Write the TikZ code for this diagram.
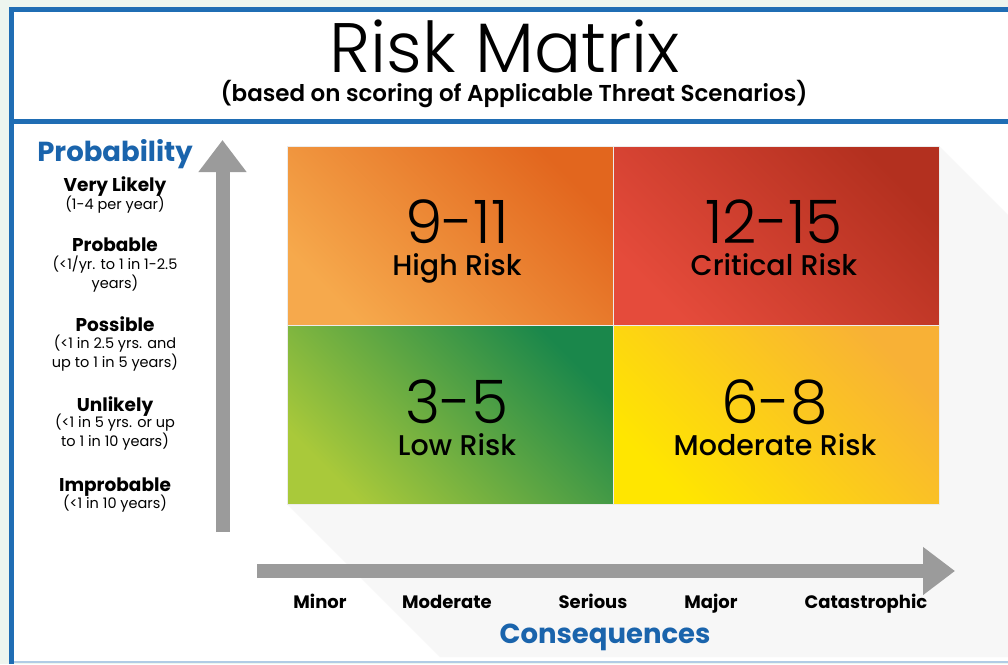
\documentclass[tikz,border=0pt]{standalone}
\usepackage{fontspec}
\setmainfont{Poppins}
\newfontfamily\thinfont{Poppins Light}
\newfontfamily\medfont{Poppins Medium}
\newfontfamily\semifont{Poppins SemiBold}
\newfontfamily\boldfont{Poppins Bold}
\usetikzlibrary{arrows.meta,positioning}

\definecolor{frameblue}{HTML}{1F6DB4}
\definecolor{axisblue}{HTML}{1A64AC}
\definecolor{mint}{HTML}{EDF5EF}
\definecolor{arrowgray}{HTML}{9B9B9B}
\definecolor{highA}{HTML}{F6A94C}
\definecolor{highB}{HTML}{E2661E}
\definecolor{critA}{HTML}{E54B3B}
\definecolor{critB}{HTML}{B3301F}
\definecolor{lowA}{HTML}{A9C93A}
\definecolor{lowB}{HTML}{1A874B}
\definecolor{modA}{HTML}{FFE600}
\definecolor{modB}{HTML}{F8B136}

\tikzset{
  cell/.style={draw=white!85!gray, line width=1pt, minimum width=326pt, minimum height=179pt, inner sep=0pt, shading angle=-45},
  score/.style={font=\thinfont\fontsize{60}{60}\selectfont, inner sep=0pt, anchor=base},
  risk/.style={font=\medfont\fontsize{28.5}{28.5}\selectfont, inner sep=0pt, anchor=base},
  lvl/.style={font=\boldfont\fontsize{18.5}{18.5}\selectfont, inner sep=0pt, anchor=base},
  lvlsub/.style={font=\fontsize{14.5}{17}\selectfont, align=center, inner sep=0pt, anchor=base},
  axislabel/.style={font=\boldfont\fontsize{18}{18}\selectfont, inner sep=0pt, anchor=base},
  axistitle/.style={font=\boldfont\fontsize{27.5}{27.5}\selectfont, text=axisblue, inner sep=0pt, anchor=base},
  axisarrow/.style={draw=arrowgray, line width=14pt, -{Triangle[width=46pt,length=32pt]}}
}

\begin{document}
\begin{tikzpicture}[x=1pt,y=-1pt]
  \useasboundingbox (0,0) rectangle (1008,664);
  \fill[mint] (0,0) rectangle (1008,664);
  \fill[white] (10,9) rectangle (1008,662);
  \draw[frameblue!35, line width=2pt] (10,662) -- (1008,662);
  \draw[frameblue, line width=5pt] (11,9.5) -- (1008,9.5);
  \draw[frameblue, line width=5pt] (11.5,7) -- (11.5,664);
  \draw[frameblue, line width=5pt] (11,121) -- (1008,121);

  % header
  \node[font=\thinfont\fontsize{70}{70}\selectfont, inner sep=0pt, anchor=base] (title) at (505,72) {Risk Matrix};
  \node[font=\semifont\fontsize{23}{23}\selectfont, inner sep=0pt, anchor=base] (subtitle) at (514,101) {(based on scoring of Applicable Threat Scenarios)};

  % long shadow behind the grid
  \fill[black!3] (288,505) -- (440,657) -- (1008,657) -- (1008,215) -- (940,147) -- cycle;

  % the four cells
  \node[cell, top color=highB, bottom color=highA, shading angle=-45] (high) at (450.5,236) {};
  \node[cell, top color=critB, bottom color=critA, shading angle=-45] (crit) at (776.5,236) {};
  \node[cell, top color=lowB, bottom color=lowA, shading angle=-45] (low) at (450.5,415) {};
  \node[cell, top color=modB, bottom color=modA, shading angle=-45] (mod) at (776.5,415) {};

  \node[score] (highnum) at (457,243) {9-11};
  \node[risk] (hightxt) at (457,275) {High Risk};
  \node[score] (critnum) at (774,243) {12-15};
  \node[risk] (crittxt) at (774,275) {Critical Risk};
  \node[score] (lownum) at (457,423) {3-5};
  \node[risk] (lowtxt) at (457,455) {Low Risk};
  \node[score] (modnum) at (775,423) {6-8};
  \node[risk] (modtxt) at (775,455) {Moderate Risk};

  % probability axis
  \coordinate (ybot) at (222.5,532);
  \coordinate (ytop) at (222.5,140);
  \draw[axisarrow] (ybot) -- (ytop);
  \node[axistitle] (prob) at (115,161) {Probability};
  \node[lvl] (vlikely) at (115,191) {Very Likely};
  \node[lvlsub] (vlikelysub) at (115,209) {(1-4 per year)};
  \node[lvl] (probable) at (115,251) {Probable};
  \node[lvlsub] (probablesub) at (115,288) {(<1/yr. to 1 in 1-2.5\\years)};
  \node[lvl] (possible) at (115,331) {Possible};
  \node[lvlsub] (possiblesub) at (115,367) {(<1 in 2.5 yrs. and\\up to 1 in 5 years)};
  \node[lvl] (unlikely) at (115,411) {Unlikely};
  \node[lvlsub] (unlikelysub) at (115,446) {(<1 in 5 yrs. or up\\to 1 in 10 years)};
  \node[lvl] (improbable) at (115,491) {Improbable};
  \node[lvlsub] (improbablesub) at (115,508) {(<1 in 10 years)};

  % consequence axis
  \coordinate (xleft) at (257,571);
  \coordinate (xright) at (955,571);
  \draw[axisarrow] (xleft) -- (xright);
  \node[axislabel] (minor) at (320,608) {Minor};
  \node[axislabel] (moderate) at (447,608) {Moderate};
  \node[axislabel] (serious) at (593,608) {Serious};
  \node[axislabel] (major) at (711,608) {Major};
  \node[axislabel] (catastrophic) at (866,608) {Catastrophic};
  \node[axistitle] (conseq) at (605,643) {Consequences};
\end{tikzpicture}
\end{document}
